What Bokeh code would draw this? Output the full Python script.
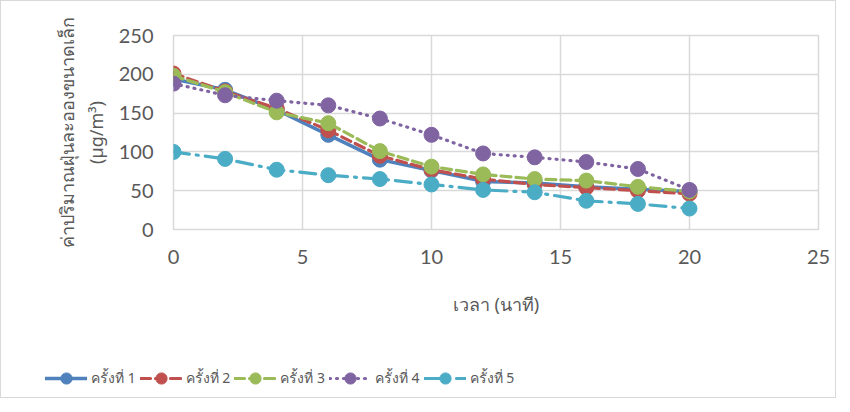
from bokeh.plotting import figure
from bokeh.layouts import column, row
from bokeh.models import Legend, LegendItem, FixedTicker
from bokeh.embed import file_html
from bokeh.resources import INLINE

x_minutes = [0, 2, 4, 6, 8, 10, 12, 14, 16, 18, 20]
run1 = [194, 180, 154, 122, 90, 76, 62, 60, 55, 52, 49]
run2 = [201, 178, 156, 128, 95, 77, 65, 58, 54, 50, 46]
run3 = [198, 177, 151, 137, 101, 81, 71, 65, 63, 55, 49]
run4 = [188, 173, 166, 160, 143, 122, 98, 93, 87, 78, 51]
run5 = [100, 91, 77, 70, 65, 58, 51, 48, 37, 33, 27]
series_names = ["ครั้งที่ 1", "ครั้งที่ 2", "ครั้งที่ 3", "ครั้งที่ 4", "ครั้งที่ 5"]
x_ticks = [0, 5, 10, 15, 20, 25]
y_ticks = [0, 50, 100, 150, 200, 250]

colors = ["#4F81BD", "#C0504D", "#9BBB59", "#8064A2", "#4BACC6"]
dashes = ["solid", "10 5", "10 5", "1 6", "16 7 2 7"]
widths = [3.5, 3.2, 3.2, 3.2, 3.2]

FONT = "Lato"
THAI = "Noto Sans"
TXT = "#595959"

p = figure(width=834, height=320, x_range=(0, 25), y_range=(0, 250),
           output_backend="svg", toolbar_location=None,
           min_border_left=172, min_border_right=17, min_border_top=34,
           min_border_bottom=92)
p.outline_line_color = "#d9d9d9"
p.outline_line_width = 1.5
p.xgrid.grid_line_color = "#d9d9d9"
p.ygrid.grid_line_color = "#d9d9d9"
p.xgrid.grid_line_width = 1.5
p.ygrid.grid_line_width = 1.5
p.xaxis.ticker = FixedTicker(ticks=x_ticks)
p.yaxis.ticker = FixedTicker(ticks=y_ticks)
for ax in (p.xaxis[0], p.yaxis[0]):
    ax.axis_line_color = None
    ax.major_tick_line_color = None
    ax.minor_tick_line_color = None
    ax.major_label_text_font = FONT
    ax.major_label_text_font_size = "20px"
    ax.major_label_text_color = TXT
    ax.axis_label_text_font = THAI
    ax.axis_label_text_font_size = "18px"
    ax.axis_label_text_color = TXT
    ax.axis_label_text_font_style = "normal"
p.xaxis.major_label_standoff = 14
p.yaxis.major_label_standoff = 14
p.xaxis.axis_label = "เวลา (นาที)"
p.xaxis.axis_label_standoff = 25
p.yaxis.axis_label = "ค่าปริมาณฝุ่นละอองขนาดเล็ก\n(µg/m³)"
p.yaxis.axis_label_standoff = 8

series = [run1, run2, run3, run4, run5]
for ys, c, d, w in zip(series, colors, dashes, widths):
    p.line(x_minutes, ys, line_color=c, line_width=w, line_dash=d, line_cap="round")
    p.scatter(x_minutes, ys, size=15, fill_color=c, line_color=c)

# legend strip below the chart (its renderers carry the series but sit outside the view)
lg = figure(width=834, height=76, x_range=(1000, 1001), y_range=(1000, 1001),
            output_backend="svg", toolbar_location=None,
            min_border_left=0, min_border_right=0, min_border_top=0, min_border_bottom=0)
lg.axis.visible = False
lg.grid.visible = False
lg.outline_line_color = None
items = []
for name, ys, c, d, w in zip(series_names, series, colors, dashes, widths):
    l = lg.line(x_minutes, ys, line_color=c, line_width=w, line_dash=d, line_cap="round")
    s = lg.scatter(x_minutes, ys, size=14, fill_color=c, line_color=c)
    items.append(LegendItem(label=name, renderers=[l, s]))
legend = Legend(items=items, orientation="horizontal", location=(44, 5),
                label_text_font=THAI, label_text_font_size="14px",
                label_text_color=TXT, glyph_width=42, glyph_height=28,
                label_standoff=4, spacing=4, padding=3, margin=0,
                border_line_color=None, background_fill_alpha=0)
lg.add_layout(legend, "center")

layout = column(p, row(lg), spacing=0)
layout.styles = {"border": "1px solid #d9d9d9"}
open("out.html", "w").write(file_html(layout, INLINE))
